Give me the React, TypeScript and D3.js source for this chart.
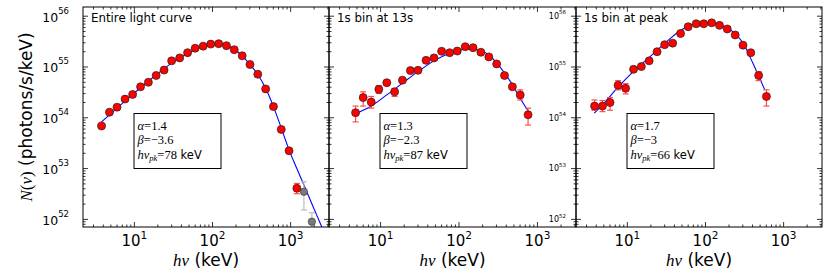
import React from 'react';
import * as d3 from 'd3';

// ---------- data ----------
const titles = ['Entire light curve', '1s bin at 13s', '1s bin at peak'];
const alphaLabels = ['1.4', '1.3', '1.7'];
const betaLabels = ['\u22123.6', '\u22122.3', '\u22123'];
const epkLabels = ['78', '87', '66'];

const xTickValues = [10, 100, 1000];
const xTickExp = ['1', '2', '3'];
const yTickValues = [1e52, 1e53, 1e54, 1e55, 1e56];
const yTickExp = ['52', '53', '54', '55', '56'];

// Panel 1: entire light curve
const p1Energy = [3.8, 4.8, 6.0, 7.6, 9.5, 12, 15.1, 19, 24, 30, 38, 48, 60, 76, 95, 120, 151, 190, 240, 302, 380, 479, 603, 759, 955, 1202];
const p1Flux = [6.9e53, 1.29e54, 1.62e54, 2.34e54, 2.88e54, 4.07e54, 5.0e54, 6.8e54, 8.7e54, 1.32e55, 1.51e55, 1.91e55, 2.34e55, 2.57e55, 2.82e55, 2.88e55, 2.63e55, 2.19e55, 1.66e55, 1.12e55, 7.2e54, 3.7e54, 1.66e54, 5.9e53, 2.24e53, 4.1e52];
const p1ErrLo: (number | null)[] = [null, null, null, null, null, null, null, null, null, null, null, null, null, null, null, null, null, null, null, null, null, null, null, null, null, 3.2e52];
const p1ErrHi: (number | null)[] = [null, null, null, null, null, null, null, null, null, null, null, null, null, null, null, null, null, null, null, null, null, null, null, null, null, 5.1e52];
const p1GreyEnergy = [1480, 1870];
const p1GreyFlux = [3.5e52, 9.0e51];
const p1GreyLo = [1.53e52, 4.0e51];
const p1GreyHi = [5.5e52, 1.35e52];
const p1ModelEnergy = [3.8, 6.0, 9.5, 15.1, 24, 38, 60, 95, 120, 151, 190, 240, 302, 380, 479, 603, 759, 955, 1202, 1514, 1905, 2400, 3000];
const p1ModelFlux = [8.3e53, 1.55e54, 2.88e54, 5.25e54, 9.3e54, 1.51e55, 2.19e55, 2.75e55, 2.82e55, 2.69e55, 2.24e55, 1.66e55, 1.12e55, 7.1e54, 3.8e54, 1.66e54, 6.3e53, 2.34e53, 1.0e53, 4.4e52, 1.9e52, 8.3e51, 3.7e51];

// Panel 2: 1s bin at 13s
const p2Energy = [4.8, 6.0, 7.6, 9.5, 12, 15.1, 19, 24, 30, 38, 48, 60, 76, 95, 120, 151, 190, 240, 302, 380, 479, 603, 759];
const p2Flux = [1.26e54, 2.5e54, 2.04e54, 3.63e54, 4.9e54, 3.24e54, 5.5e54, 8.5e54, 8.6e54, 1.35e55, 1.51e55, 2.04e55, 1.91e55, 2.06e55, 2.51e55, 2.4e55, 1.95e55, 1.58e55, 1.15e55, 6.8e54, 4.07e54, 2.82e54, 1.15e54];
const p2ErrLo: (number | null)[] = [8.3e53, 1.7e54, 1.55e54, 3.0e54, null, 2.63e54, null, null, null, null, null, null, null, null, null, null, null, null, null, null, null, 2.24e54, 7.2e53];
const p2ErrHi: (number | null)[] = [1.7e54, 3.24e54, 2.63e54, 4.3e54, null, 3.8e54, null, null, null, null, null, null, null, null, null, null, null, null, null, null, null, 3.55e54, 1.55e54];
const p2ModelEnergy = [4.8, 7.6, 12, 19, 30, 48, 76, 120, 151, 190, 240, 302, 380, 479, 603, 759];
const p2ModelFlux = [1.2e54, 1.7e54, 2.82e54, 4.8e54, 8.1e54, 1.32e55, 1.86e55, 2.24e55, 2.24e55, 2.09e55, 1.74e55, 1.2e55, 7.6e54, 4.5e54, 2.4e54, 1.38e54];

// Panel 3: 1s bin at peak
const p3Energy = [3.8, 4.8, 6.0, 7.6, 9.5, 12, 15.1, 19, 24, 30, 38, 48, 60, 76, 95, 120, 151, 190, 240, 302, 380, 479, 603];
const p3Flux = [1.7e54, 1.7e54, 2.0e54, 4.37e54, 3.8e54, 9.0e54, 1.02e55, 1.32e55, 2.0e55, 2.75e55, 2.95e55, 4.57e55, 6.2e55, 7.1e55, 7.1e55, 7.4e55, 6.6e55, 5.6e55, 4.27e55, 2.69e55, 1.91e55, 6.8e54, 2.63e54];
const p3ErrLo: (number | null)[] = [1.41e54, 1.32e54, 1.41e54, 3.55e54, 2.95e54, null, null, null, null, null, null, null, null, null, null, null, null, null, null, null, null, 5.4e54, 1.7e54];
const p3ErrHi: (number | null)[] = [2.24e54, 2.19e54, 2.51e54, 5.4e54, 4.7e54, null, null, null, null, null, null, null, null, null, null, null, null, null, null, null, null, 8.1e54, 3.55e54];
const p3ModelEnergy = [3.77, 4.9, 7.6, 11.9, 19.4, 31.8, 49.4, 76.8, 114, 152, 226, 303, 406, 574];
const p3ModelFlux = [1.23e54, 1.86e54, 4.0e54, 8.1e54, 1.58e55, 3.16e55, 5.4e55, 7.1e55, 7.4e55, 6.8e55, 4.9e55, 2.95e55, 1.17e55, 3.55e54];

// ---------- layout ----------
const W = 830;
const H = 277;
const TOP = 7;
const BOTTOM = 227;
const panelEdges: [number, number][] = [[83, 329], [329, 576], [576, 822]];
const X_DOMAIN: [number, number] = [2.2, 3100];
const Y_DOMAIN: [number, number] = [Math.pow(10, 51.85), Math.pow(10, 56.181)];

const SANS = "'DejaVu Sans', sans-serif";
const SERIF = "'Liberation Serif', 'DejaVu Serif', serif";

interface PanelData {
  energy: number[];
  flux: number[];
  lo: (number | null)[];
  hi: (number | null)[];
  modelE: number[];
  modelF: number[];
  greyE?: number[];
  greyF?: number[];
  greyLo?: number[];
  greyHi?: number[];
}

const panels: PanelData[] = [
  { energy: p1Energy, flux: p1Flux, lo: p1ErrLo, hi: p1ErrHi, modelE: p1ModelEnergy, modelF: p1ModelFlux,
    greyE: p1GreyEnergy, greyF: p1GreyFlux, greyLo: p1GreyLo, greyHi: p1GreyHi },
  { energy: p2Energy, flux: p2Flux, lo: p2ErrLo, hi: p2ErrHi, modelE: p2ModelEnergy, modelF: p2ModelFlux },
  { energy: p3Energy, flux: p3Flux, lo: p3ErrLo, hi: p3ErrHi, modelE: p3ModelEnergy, modelF: p3ModelFlux },
];

function minorTicks(domain: [number, number]): number[] {
  const out: number[] = [];
  const lo = Math.floor(Math.log10(domain[0]));
  const hi = Math.ceil(Math.log10(domain[1]));
  for (let e = lo; e <= hi; e++) {
    for (let m = 2; m <= 9; m++) {
      const v = m * Math.pow(10, e);
      if (v >= domain[0] && v <= domain[1]) out.push(v);
    }
  }
  return out;
}

const Panel: React.FC<{ idx: number }> = ({ idx }) => {
  const [x0, x1] = panelEdges[idx];
  const d = panels[idx];
  const xs = d3.scaleLog().domain(X_DOMAIN).range([x0, x1]);
  const ys = d3.scaleLog().domain(Y_DOMAIN).range([BOTTOM, TOP]);
  const xMinor = minorTicks(X_DOMAIN);
  const yMinor = minorTicks(Y_DOMAIN);
  const clipId = `clip${idx}`;
  const line = d3.line<number>()
    .x((_, i) => xs(d.modelE[i]))
    .y((_, i) => ys(d.modelF[i]))
    .curve(d3.curveMonotoneX);
  const modelPath = line(d.modelE) || '';
  const cap = 3;
  const r = 4;

  return (
    <g>
      <defs>
        <clipPath id={clipId}>
          <rect x={x0} y={TOP} width={x1 - x0} height={BOTTOM - TOP} />
        </clipPath>
      </defs>
      {/* ticks */}
      <g stroke="#000" strokeWidth={0.8}>
        {xTickValues.map((v) => (
          <g key={'xM' + v}>
            <line x1={xs(v)} x2={xs(v)} y1={BOTTOM} y2={BOTTOM - 5} />
            <line x1={xs(v)} x2={xs(v)} y1={TOP} y2={TOP + 5} />
          </g>
        ))}
        {xMinor.map((v) => (
          <g key={'xm' + v}>
            <line x1={xs(v)} x2={xs(v)} y1={BOTTOM} y2={BOTTOM - 2.5} />
            <line x1={xs(v)} x2={xs(v)} y1={TOP} y2={TOP + 2.5} />
          </g>
        ))}
        {yTickValues.map((v) => (
          <g key={'yM' + v}>
            <line x1={x0} x2={x0 + 5} y1={ys(v)} y2={ys(v)} />
            <line x1={x1} x2={x1 - 5} y1={ys(v)} y2={ys(v)} />
          </g>
        ))}
        {yMinor.map((v) => (
          <g key={'ym' + v}>
            <line x1={x0} x2={x0 + 2.5} y1={ys(v)} y2={ys(v)} />
            <line x1={x1} x2={x1 - 2.5} y1={ys(v)} y2={ys(v)} />
          </g>
        ))}
      </g>
      {/* data */}
      <g clipPath={`url(#${clipId})`}>
        <path d={modelPath} fill="none" stroke="#0000ff" strokeWidth={1.1} />
        {d.greyE && d.greyE.map((e, i) => (
          <g key={'ge' + i} stroke="#bdbdbd" strokeWidth={1.2}>
            <line x1={xs(e)} x2={xs(e)} y1={ys(d.greyLo![i])} y2={ys(d.greyHi![i])} />
            <line x1={xs(e) - cap} x2={xs(e) + cap} y1={ys(d.greyLo![i])} y2={ys(d.greyLo![i])} />
            <line x1={xs(e) - cap} x2={xs(e) + cap} y1={ys(d.greyHi![i])} y2={ys(d.greyHi![i])} />
          </g>
        ))}
        {d.energy.map((e, i) => {
          const lo = d.lo[i];
          const hi = d.hi[i];
          if (lo == null || hi == null) return null;
          return (
            <g key={'er' + i} stroke="#ff4d4d" strokeWidth={1.2}>
              <line x1={xs(e)} x2={xs(e)} y1={ys(lo)} y2={ys(hi)} />
              <line x1={xs(e) - cap} x2={xs(e) + cap} y1={ys(lo)} y2={ys(lo)} />
              <line x1={xs(e) - cap} x2={xs(e) + cap} y1={ys(hi)} y2={ys(hi)} />
            </g>
          );
        })}
        {d.greyE && d.greyE.map((e, i) => (
          <circle key={'gp' + i} cx={xs(e)} cy={ys(d.greyF![i])} r={r - 0.3} fill="#7a7a7a" stroke="#333" strokeWidth={0.6} />
        ))}
        {d.energy.map((e, i) => (
          <circle key={'p' + i} cx={xs(e)} cy={ys(d.flux[i])} r={r} fill="#ff0000" stroke="#222" strokeWidth={0.7} />
        ))}
      </g>
      {/* frame */}
      <rect x={x0} y={TOP} width={x1 - x0} height={BOTTOM - TOP} fill="none" stroke="#000" strokeWidth={1} />
      {/* x tick labels */}
      {xTickValues.map((v, i) => (
        <text key={'xl' + v} x={xs(v)} y={246} textAnchor="middle" fontFamily={SANS} fontSize={15} fill="#000">
          10<tspan dy={-7.5} fontSize={10.5}>{xTickExp[i]}</tspan>
        </text>
      ))}
      {/* x axis label */}
      <text x={(x0 + x1) / 2} y={266} textAnchor="middle" fontSize={17} fill="#000">
        <tspan fontFamily={SERIF} fontStyle="italic">h{'\u03bd'}</tspan>
        <tspan fontFamily={SANS}> (keV)</tspan>
      </text>
      {/* title */}
      <text x={x0 + 8} y={21.7} fontFamily={SANS} fontSize={11.8} fill="#000">{titles[idx]}</text>
      {/* parameter box */}
      <g>
        <rect x={x0 + 51} y={113.5} width={87} height={55} fill="#fff" stroke="#000" strokeWidth={1} />
        <text x={x0 + 54.5} y={129.5} fontFamily={SERIF} fontSize={12.5} fill="#000">
          <tspan fontStyle="italic">{'\u03b1'}</tspan>={alphaLabels[idx]}
        </text>
        <text x={x0 + 54.5} y={144} fontFamily={SERIF} fontSize={12.5} fill="#000">
          <tspan fontStyle="italic">{'\u03b2'}</tspan>={betaLabels[idx]}
        </text>
        <text x={x0 + 54.5} y={158.5} fontFamily={SERIF} fontSize={12.5} fill="#000">
          <tspan fontStyle="italic">h{'\u03bd'}</tspan>
          <tspan fontStyle="italic" fontSize={8.5} dy={2.5}>pk</tspan>
          <tspan dy={-2.5}>={epkLabels[idx]}</tspan>
          <tspan fontFamily={SANS} fontSize={11.5}> keV</tspan>
        </text>
      </g>
    </g>
  );
};

export default function App() {
  const ys = d3.scaleLog().domain(Y_DOMAIN).range([BOTTOM, TOP]);
  return (
    <svg width={W} height={H} viewBox={`0 0 ${W} ${H}`} style={{ position: 'absolute', left: 0, top: 0, background: '#fff' }}>
      <rect x={0} y={0} width={W} height={H} fill="#fff" />
      {[0, 1, 2].map((i) => <Panel key={i} idx={i} />)}
      {/* left y tick labels */}
      {yTickValues.map((v, i) => (
        <text key={'yl' + v} x={69} y={ys(v) + 5.5} textAnchor="end" fontFamily={SANS} fontSize={12.5} fill="#000">
          10<tspan dy={-8} fontSize={8.5}>{yTickExp[i]}</tspan>
        </text>
      ))}
      {/* small y tick labels on right side of middle panel */}
      {yTickValues.map((v, i) => (
        <text key={'yr' + v} x={566} y={ys(v) + 2.8} textAnchor="end" fontFamily={SANS} fontSize={8} fill="#000">
          10<tspan dy={-4.5} fontSize={5.5}>{yTickExp[i]}</tspan>
        </text>
      ))}
      {/* y axis label */}
      <text transform={`translate(31.5,117) rotate(-90)`} textAnchor="middle" fontSize={17} fill="#000">
        <tspan fontFamily={SERIF} fontStyle="italic">N</tspan>
        <tspan fontFamily={SERIF}>(</tspan>
        <tspan fontFamily={SERIF} fontStyle="italic">{'\u03bd'}</tspan>
        <tspan fontFamily={SERIF}>)</tspan>
        <tspan fontFamily={SANS}> (photons/s/keV)</tspan>
      </text>
    </svg>
  );
}
